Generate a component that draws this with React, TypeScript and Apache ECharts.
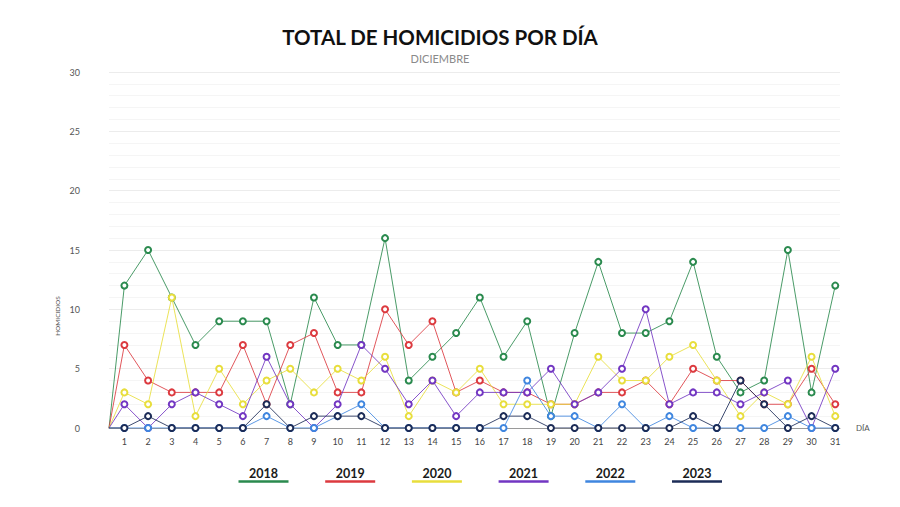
import React, { useEffect, useRef } from "react";
import * as echarts from "echarts";

// Days of December and homicide counts per year
const days: number[] = Array.from({ length: 31 }, (_, i) => i + 1);
const years: string[] = ["2018", "2019", "2020", "2021", "2022", "2023"];
const colors: string[] = ["#2a8a4e", "#dc3a3f", "#e8de3c", "#7236c2", "#3f86df", "#1c2c57"];

const v2018 = [12, 15, 11, 7, 9, 9, 9, 2, 11, 7, 7, 16, 4, 6, 8, 11, 6, 9, 1, 8, 14, 8, 8, 9, 14, 6, 3, 4, 15, 3, 12];
const v2019 = [7, 4, 3, 3, 3, 7, 2, 7, 8, 3, 3, 10, 7, 9, 3, 4, 3, 3, 2, 2, 3, 3, 4, 2, 5, 4, 4, 2, 2, 5, 2];
const v2020 = [3, 2, 11, 1, 5, 2, 4, 5, 3, 5, 4, 6, 1, 4, 3, 5, 2, 2, 2, 2, 6, 4, 4, 6, 7, 4, 1, 3, 2, 6, 1];
const v2021 = [2, 0, 2, 3, 2, 1, 6, 2, 0, 2, 7, 5, 2, 4, 1, 3, 3, 3, 5, 2, 3, 5, 10, 2, 3, 3, 2, 3, 4, 0, 5];
const v2022 = [0, 0, 0, 0, 0, 0, 1, 0, 0, 1, 2, 0, 0, 0, 0, 0, 0, 4, 1, 1, 0, 2, 0, 1, 0, 0, 0, 0, 1, 0, 0];
const v2023 = [0, 1, 0, 0, 0, 0, 2, 0, 1, 1, 1, 0, 0, 0, 0, 0, 1, 1, 0, 0, 0, 0, 0, 0, 1, 0, 4, 2, 0, 1, 0];
const seriesValues: number[][] = [v2018, v2019, v2020, v2021, v2022, v2023];

const yTicks: number[] = [0, 5, 10, 15, 20, 25, 30];

// Every line starts from zero at the left edge of the plot
const xStart = 0.35;
const xEnd = 31.2;

const FONT = "Lato, 'Open Sans', sans-serif";

export default function App() {
  const ref = useRef<HTMLDivElement>(null);

  useEffect(() => {
    if (!ref.current) return;
    const chart = echarts.init(ref.current, null, { renderer: "svg" });

    const series = years.map((y, k) => ({
      name: y,
      type: "line",
      data: [
        { value: [xStart, 0], symbol: "none" },
        ...days.map((d, i) => [d, seriesValues[k][i]]),
      ],
      symbol: "circle",
      symbolSize: 6,
      itemStyle: { color: "#ffffff", borderColor: colors[k], borderWidth: 2 },
      lineStyle: { color: colors[k], width: 1, opacity: 0.85 },
      z: 2 + k,
    }));

    const legendCenters0 = 263.5;
    const legendStep = 86.7;
    const legendGraphics: any[] = [];
    years.forEach((y, k) => {
      const cx = legendCenters0 + k * legendStep;
      legendGraphics.push({
        type: "text",
        x: cx,
        y: 473,
        style: {
          text: y,
          fill: "#1a1a1a",
          font: `bold 12.5px ${FONT}`,
          textAlign: "center",
          textVerticalAlign: "middle",
        },
      });
      legendGraphics.push({
        type: "line",
        shape: { x1: cx - 25, y1: 481.5, x2: cx + 25, y2: 481.5 },
        style: { stroke: colors[k], lineWidth: 2.5 },
      });
    });

    chart.setOption({
      animation: false,
      backgroundColor: "#ffffff",
      title: {
        text: "TOTAL DE HOMICIDIOS POR DÍA",
        subtext: "DICIEMBRE",
        left: 435,
        top: 21,
        textAlign: "center",
        itemGap: 6,
        textStyle: { fontFamily: FONT, fontSize: 20.5, fontWeight: 700, color: "#111111" },
        subtextStyle: { fontFamily: FONT, fontSize: 11, color: "#8a8a8a" },
      },
      grid: { left: 109, right: 60, top: 72, bottom: 79 },
      xAxis: {
        type: "value",
        min: xStart,
        max: xEnd,
        name: "DÍA",
        nameLocation: "end",
        nameGap: 16,
        nameTextStyle: { fontFamily: FONT, fontSize: 8, color: "#555555", verticalAlign: "middle" },
        axisLine: { show: true, lineStyle: { color: "#9a9a9a", width: 1 } },
        axisTick: { show: false },
        splitLine: { show: false },
        axisLabel: {
          customValues: days,
          fontFamily: FONT,
          fontSize: 9,
          color: "#444444",
          margin: 9,
        },
      },
      yAxis: {
        type: "value",
        min: 0,
        max: 30,
        interval: 5,
        axisLine: { show: false },
        axisTick: { show: false },
        axisLabel: {
          customValues: yTicks,
          fontFamily: FONT,
          fontSize: 9,
          color: "#555555",
          margin: 29,
        },
        splitLine: { show: true, lineStyle: { color: "#ececec", width: 1 } },
        minorTick: { show: false, splitNumber: 5 },
        minorSplitLine: { show: true, lineStyle: { color: "#f5f5f5", width: 1 } },
      },
      graphic: [
        {
          type: "text",
          x: 57,
          y: 316,
          rotation: Math.PI / 2,
          style: {
            text: "HOMICIDIOS",
            fill: "#555555",
            font: `6.5px ${FONT}`,
            textAlign: "center",
            textVerticalAlign: "middle",
          },
        },
        ...legendGraphics,
      ],
      series,
    });

    return () => chart.dispose();
  }, []);

  return (
    <div
      ref={ref}
      style={{ position: "fixed", left: 0, top: 0, width: 900, height: 507 }}
    />
  );
}
